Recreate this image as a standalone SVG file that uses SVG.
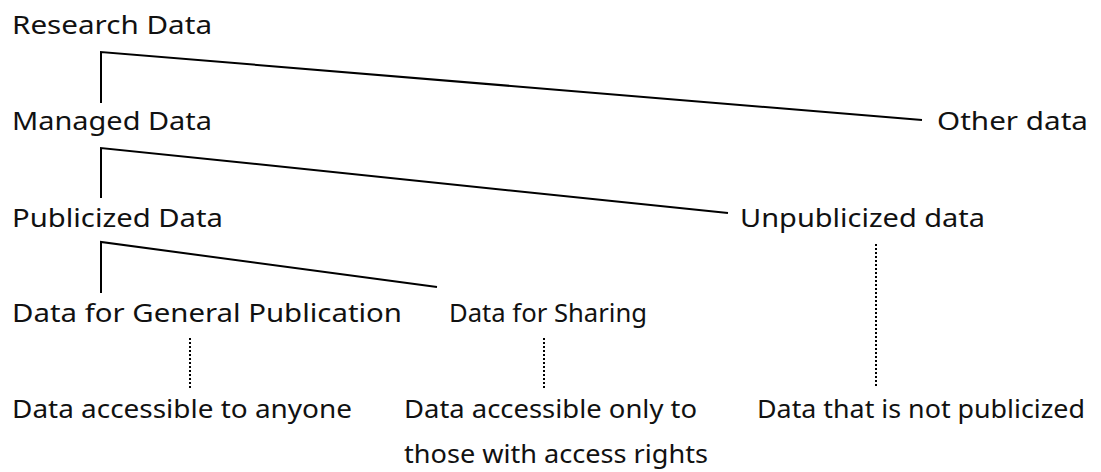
<svg xmlns="http://www.w3.org/2000/svg" width="1101" height="472" viewBox="0 0 1101 472">
<style>
text{font-family:"Noto Sans","DejaVu Sans",sans-serif;font-size:25px;fill:#111}
.s{stroke:#000;stroke-width:2;fill:none}
.d{stroke:#000;stroke-width:2;fill:none;stroke-dasharray:2 2}
</style>
<rect width="1101" height="472" fill="#fff"/>
<g id="connectors">
<polyline class="s" points="101,103 101,52 922,120"/>
<polyline class="s" points="101,198 101,148 728,213"/>
<polyline class="s" points="101,293 101,242 437,287"/>
<line class="d" x1="190" y1="338" x2="190" y2="388"/>
<line class="d" x1="544" y1="338" x2="544" y2="388"/>
<line class="d" x1="876" y1="244" x2="876" y2="388"/>
</g>
<g id="research"><text x="12" y="34" textLength="200" lengthAdjust="spacingAndGlyphs">Research Data</text></g>
<g id="other"><text x="937" y="130" textLength="151" lengthAdjust="spacingAndGlyphs">Other data</text></g>
<g id="managed"><text x="12" y="130" textLength="200" lengthAdjust="spacingAndGlyphs">Managed Data</text></g>
<g id="publicized"><text x="12" y="227" textLength="211" lengthAdjust="spacingAndGlyphs">Publicized Data</text></g>
<g id="unpublicized"><text x="740" y="227" textLength="245" lengthAdjust="spacingAndGlyphs">Unpublicized data</text></g>
<g id="general"><text x="12" y="322" textLength="390" lengthAdjust="spacingAndGlyphs">Data for General Publication</text></g>
<g id="sharing"><text x="449" y="322" textLength="198" lengthAdjust="spacingAndGlyphs">Data for Sharing</text></g>
<g id="anyone"><text x="12" y="418" textLength="340" lengthAdjust="spacingAndGlyphs">Data accessible to anyone</text></g>
<g id="rights"><text x="404" y="418" textLength="293" lengthAdjust="spacingAndGlyphs">Data accessible only to</text><text x="404" y="463" textLength="304" lengthAdjust="spacingAndGlyphs">those with access rights</text></g>
<g id="notpub"><text x="757" y="418" textLength="328" lengthAdjust="spacingAndGlyphs">Data that is not publicized</text></g>
</svg>
